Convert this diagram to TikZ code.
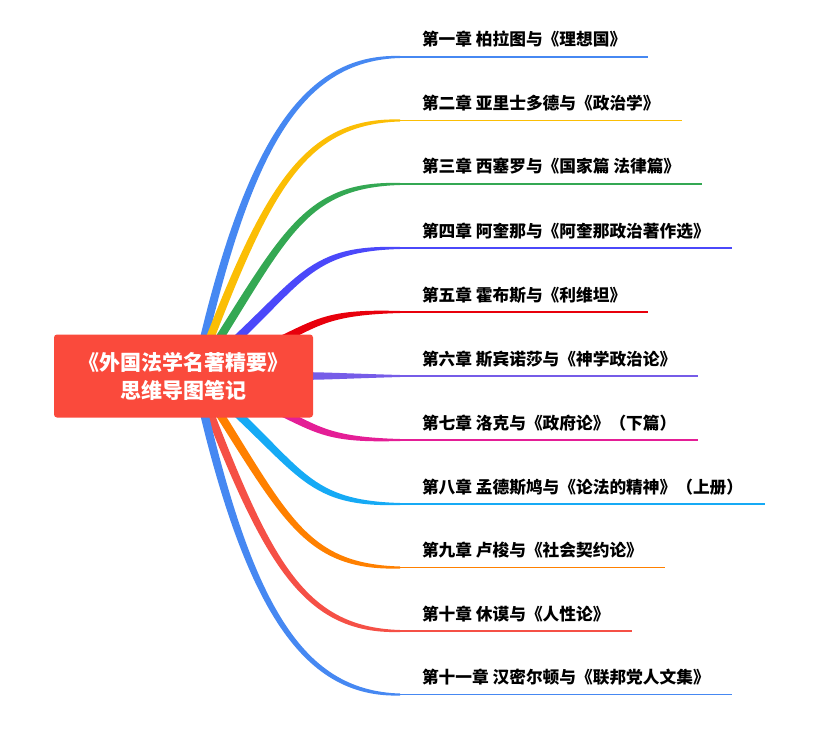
\documentclass[tikz,border=0pt]{standalone}
\usepackage{fontspec}
\usepackage{tikz}
\usetikzlibrary{calc,backgrounds}
\newfontfamily\cjk{Noto Sans CJK SC}
\definecolor{rootred}{RGB}{250,74,60}
\definecolor{lblue}{RGB}{70,136,242}
\definecolor{lyellow}{RGB}{251,190,5}
\definecolor{lgreen}{RGB}{52,168,83}
\definecolor{lindigo}{RGB}{75,72,250}
\definecolor{lred}{RGB}{232,0,12}
\definecolor{lpurple}{RGB}{118,92,232}
\definecolor{lmagenta}{RGB}{228,30,150}
\definecolor{lcyan}{RGB}{22,170,245}
\definecolor{lorange}{RGB}{255,128,0}
\definecolor{lcoral}{RGB}{245,80,70}
% tapered branch from the hub to the underline of a chapter node
\newcommand\chapbranch[2]{%
  \coordinate (p0) at (hub);
  \coordinate (q) at (hub |- #2.south west);
  \path let \p1=($(q)-(p0)$) in ($(p0)!0.71!(q)+({50pt+0.3*(319pt-abs(\y1))},0pt)$) coordinate (p1);
  \coordinate (p3) at (#2.south west);
  \coordinate (p2) at ($(p3)+(-100pt,0)$);
  \fill[#1] ($(p0)!4.2pt!90:(p1)$) .. controls ($(p1)!4.2pt!-90:(p0)$) and ($(p2)!4pt!90:(p3)$) .. ($(p3)!1pt!-90:(p2)$)
    -- ($(p3)!1pt!90:(p2)$) .. controls ($(p2)!4pt!-90:(p3)$) and ($(p1)!4.2pt!90:(p0)$) .. ($(p0)!4.2pt!-90:(p1)$) -- cycle;
  \draw[#1, line width=1.6pt] (#2.south west) -- (#2.south east);
}

\begin{document}
\begin{tikzpicture}[x=1pt,y=-1pt]
\tikzstyle{every node}+=[outer sep=0pt]
\tikzstyle{chap}=[anchor=south west, inner xsep=22pt, inner ysep=0pt, text height=14pt, text depth=11pt, font=\cjk\bfseries\fontsize{16.7}{20}\selectfont]
\tikzstyle{rootbox}=[fill=rootred, rounded corners=3pt, minimum width=259pt, minimum height=83pt, inner sep=0pt, text=white, align=center, font=\cjk\bfseries\fontsize{21}{28}\selectfont]
\useasboundingbox (0,0) rectangle (827,730);
\node[rootbox] (root) at (183.5,376) {《外国法学名著精要》\\思维导图笔记};
\coordinate (hub) at ($(root.center)+(12,0)$);
\node[chap] (c1) at (400,57) {第一章 柏拉图与《理想国》};
\node[chap] (c2) at (400,120.5) {第二章 亚里士多德与《政治学》};
\node[chap] (c3) at (400,184) {第三章 西塞罗与《国家篇 法律篇》};
\node[chap] (c4) at (400,248) {第四章 阿奎那与《阿奎那政治著作选》};
\node[chap] (c5) at (400,312) {第五章 霍布斯与《利维坦》};
\node[chap] (c6) at (400,376) {第六章 斯宾诺莎与《神学政治论》};
\node[chap] (c7) at (400,440) {第七章 洛克与《政府论》（下篇）};
\node[chap] (c8) at (400,504) {第八章 孟德斯鸠与《论法的精神》（上册）};
\node[chap] (c9) at (400,567.5) {第九章 卢梭与《社会契约论》};
\node[chap] (c10) at (400,631) {第十章 休谟与《人性论》};
\node[chap] (c11) at (400,694.5) {第十一章 汉密尔顿与《联邦党人文集》};
\begin{pgfonlayer}{background}
\chapbranch{lblue}{c1}
\chapbranch{lyellow}{c2}
\chapbranch{lgreen}{c3}
\chapbranch{lindigo}{c4}
\chapbranch{lred}{c5}
\chapbranch{lpurple}{c6}
\chapbranch{lmagenta}{c7}
\chapbranch{lcyan}{c8}
\chapbranch{lorange}{c9}
\chapbranch{lcoral}{c10}
\chapbranch{lblue}{c11}
\end{pgfonlayer}
\end{tikzpicture}
\end{document}
